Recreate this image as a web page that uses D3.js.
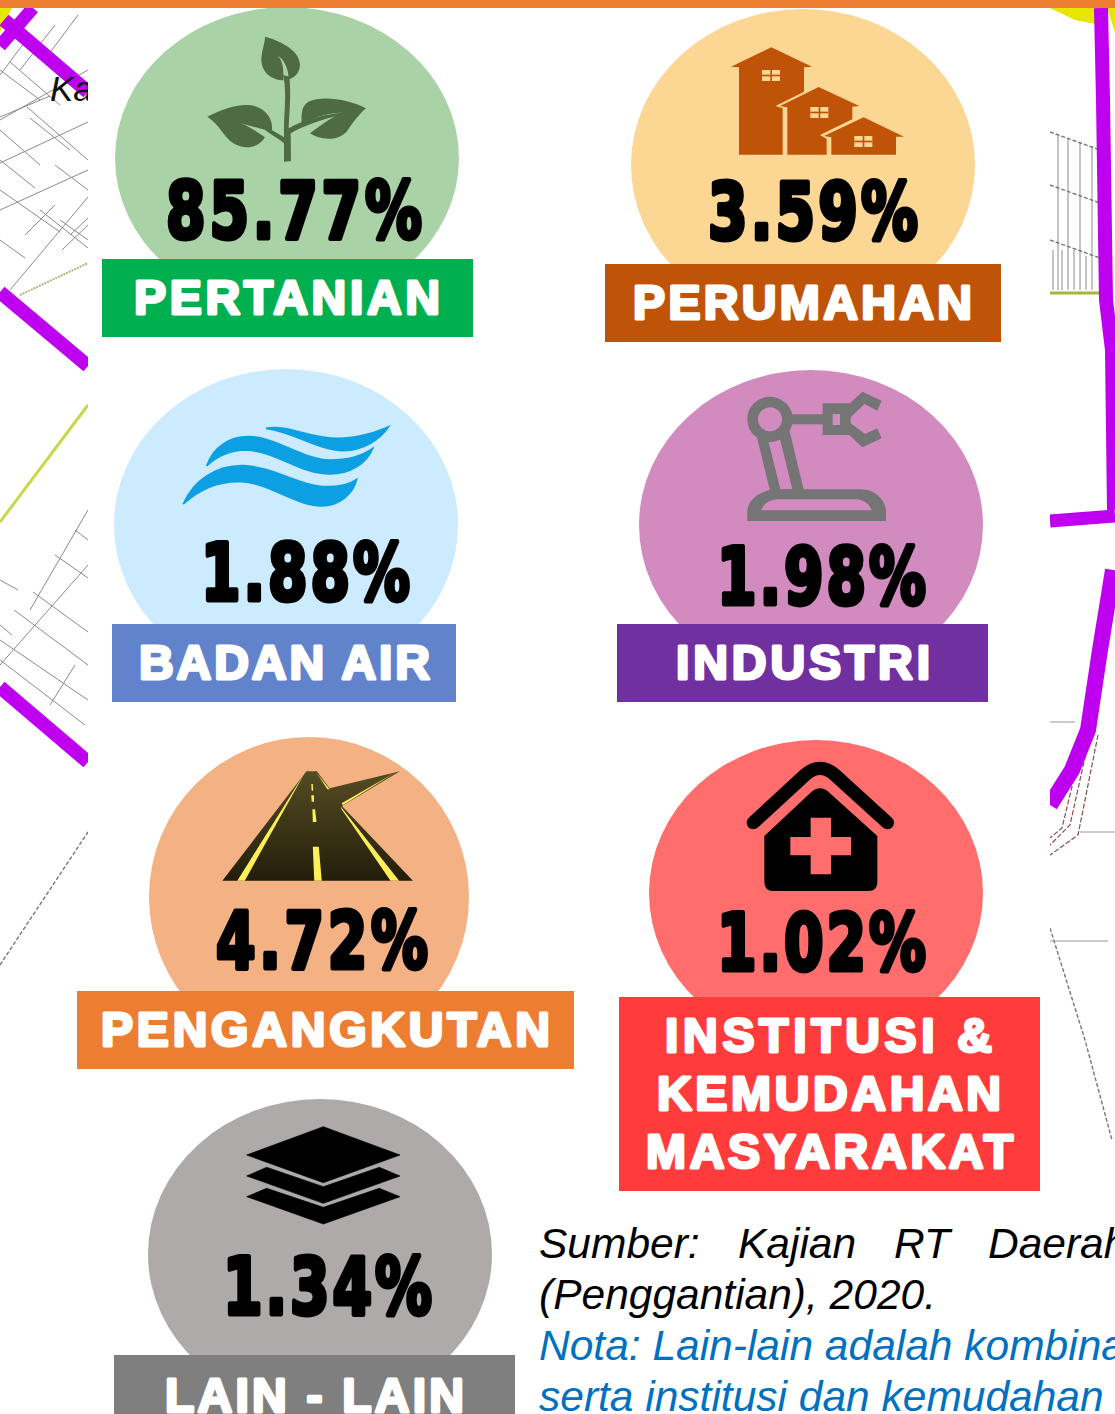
<!DOCTYPE html>
<html>
<head>
<meta charset="utf-8">
<script src="https://cdn.jsdelivr.net/npm/d3@7/dist/d3.min.js"></script>
<style>
html,body{margin:0;padding:0;background:#fff;overflow:hidden}
svg{display:block}
</style>
</head>
<body>
<div id="chart"></div>
<script>
// ---- data ----
const categories = ["PERTANIAN","PERUMAHAN","BADAN AIR","INDUSTRI","PENGANGKUTAN","INSTITUSI & KEMUDAHAN MASYARAKAT","LAIN - LAIN"];
const values = [85.77, 3.59, 1.88, 1.98, 4.72, 1.02, 1.34];
const labelLines = [["PERTANIAN"],["PERUMAHAN"],["BADAN AIR"],["INDUSTRI"],["PENGANGKUTAN"],["INSTITUSI &","KEMUDAHAN","MASYARAKAT"],["LAIN - LAIN"]];
const sourceLines = ["(Penggantian), 2020."];
const sourceWords = ["Sumber:","Kajian","RT","Daerah"];
const noteLines = ["Nota: Lain-lain adalah kombinasi","serta institusi dan kemudahan"];

// ---- colours ----
const discColours = ["#A9D2A7","#FCD693","#CCEBFF","#D28BBF","#F4B183","#FF6D6D","#AEAAAA"];
const bandColours = ["#00B050","#BF5408","#6083CB","#7030A0","#ED7D31","#FF3B3B","#7F7F7F"];
const discColour = d3.scaleOrdinal(categories, discColours);
const bandColour = d3.scaleOrdinal(categories, bandColours);

// ---- layout (page pixels) ----
const W = 1115, H = 1414;
const discLayout = [[287,158,172,151],[803,165,172,156],[286,525,172,156],[811,525,172,155],[309,897,160,160],[816,893,167,153],[320,1254,172,155]];
const bandLayout = [[102,259,371,78],[605,264,396,78],[112,624,344,78],[617,624,371,78],[77,991,497,78],[619,997,421,194],[114,1355,401,59]];
const valueLayout = [[166,238,256],[708,239,210],[201,600,209],[717,604,209],[216,968,212],[717,970,209],[223,1314,209]];
const labelLayout = [[[134,314,306]],[[633,319,339]],[[139,679,291]],[[676,679,254]],[[101,1046,449]],[[665,1052,327],[657,1110,344],[646,1168,367]],[[165,1412,299]]];
const valueSquash = 0.72;

const svg = d3.select("#chart").append("svg").attr("width",W).attr("height",H).attr("viewBox",`0 0 ${W} ${H}`);
const defs = svg.append("defs");
const roadGrad = defs.append("linearGradient").attr("id","roadGrad").attr("x1",0).attr("y1",0).attr("x2",0).attr("y2",1);
roadGrad.append("stop").attr("offset",0).attr("stop-color","#544C22");
roadGrad.append("stop").attr("offset",1).attr("stop-color","#231E0B");

// ---- background map fragments ----
const line = d3.line();
const map = svg.append("g");
const purpleRoads = [
  [[[33,8],[0,46]],13],
  [[[4,20],[88,92]],14],
  [[[0,292],[88,366]],14],
  [[[0,687],[88,762]],14],
  [[[1101,8],[1103,100],[1106,300],[1112,350],[1114,510]],14],
  [[[1050,521],[1115,516]],13],
  [[[1113,570],[1100,650],[1088,730],[1072,770],[1050,805]],16]
];
const thinLines = [
  [[0,117],[50,96]],[[0,163],[88,122]],[[0,210],[88,170]],[[10,290],[88,197]],[[0,120],[88,70]],
  [[27,107],[88,160]],[[0,190],[60,232]],[[60,220],[88,240]],[[30,35],[0,75]],[[55,25],[20,70]],[[78,15],[46,58]],
  [[0,70],[40,100]],[[10,62],[60,105]],[[0,130],[40,165]],[[30,118],[70,150]],[[0,240],[25,258]],[[25,235],[55,205]],
  [[40,210],[88,248]],[[62,250],[88,225]],[[70,235],[88,218]],[[0,160],[35,188]],[[55,165],[88,190]],
  [[88,510],[30,610]],[[88,565],[0,665]],[[75,530],[88,540]],[[55,555],[88,578]],[[33,592],[88,632]],[[14,610],[88,665]],[[0,640],[88,700]],[[0,660],[85,725]],[[75,665],[50,705]],[[0,580],[18,590]],
  [[0,625],[12,635]],
  [[1058,135],[1058,290]],[[1068,138],[1068,290]],[[1080,142],[1080,290]],[[1092,146],[1092,290]],
  [[1053,250],[1053,290]],[[1062,250],[1062,290]],[[1074,250],[1074,290]],[[1086,256],[1086,290]]
];
const dashedLines = [
  [[1050,132],[1100,150]],[[1050,185],[1100,203]],[[1050,240],[1100,258]],
  [[0,965],[88,832]],[[1050,928],[1085,1040],[1112,1140]]
];
const redDashed = [[[1098,735],[1078,835],[1050,855]],[[1090,735],[1070,825],[1050,845]],[[1082,745],[1062,828],[1050,838]]];
map.selectAll("path.thin").data(thinLines).join("path").attr("class","thin").attr("d",line).attr("fill","none").attr("stroke","#8a8a8a").attr("stroke-width",1);
map.selectAll("path.dash").data(dashedLines).join("path").attr("class","dash").attr("d",line).attr("fill","none").attr("stroke","#777").attr("stroke-width",1.4).attr("stroke-dasharray","4 2");
map.selectAll("path.red").data(redDashed).join("path").attr("class","red").attr("d",line).attr("fill","none").attr("stroke","#8b4a55").attr("stroke-width",1.2).attr("stroke-dasharray","5 2");
map.append("path").attr("d",line([[20,295],[88,263]])).attr("fill","none").attr("stroke","#b5b27a").attr("stroke-width",2).attr("stroke-dasharray","2 1");
map.append("path").attr("d",line([[0,522],[88,405]])).attr("fill","none").attr("stroke","#CBD64A").attr("stroke-width",3);
map.append("path").attr("d",line([[1050,293],[1106,293]])).attr("fill","none").attr("stroke","#A8B43C").attr("stroke-width",3);
map.append("path").attr("d",line([[1050,722],[1075,722]])).attr("fill","none").attr("stroke","#999").attr("stroke-width",1);
map.append("path").attr("d",line([[1080,832],[1115,832]])).attr("fill","none").attr("stroke","#999").attr("stroke-width",1);
map.append("path").attr("d",line([[1050,941],[1108,941]])).attr("fill","none").attr("stroke","#999").attr("stroke-width",1);
map.append("path").attr("d","M1050 8L1100 8L1100 25L1075 20Z").attr("fill","#E6E600");
map.append("path").attr("d","M1107 8L1115 8L1115 32Z").attr("fill","#E6E600");
map.append("path").attr("d","M0 8L12 8L0 32Z").attr("fill","#E6E600");
map.selectAll("path.road").data(purpleRoads).join("path").attr("class","road").attr("d",d=>line(d[0])).attr("fill","none").attr("stroke","#BF00F0").attr("stroke-width",d=>d[1]);
map.append("text").attr("x",50).attr("y",101).attr("font-family","Liberation Sans").attr("font-style","italic").attr("font-size",35).attr("fill","#111").text("Ka");

// white panel + top bar
svg.append("rect").attr("x",88).attr("y",8).attr("width",962).attr("height",H-8).attr("fill","#fff");

// ---- discs, bands, values, labels ----
const rows = categories.map((c,i)=>({c,v:values[i],lines:labelLines[i],disc:discLayout[i],band:bandLayout[i],val:valueLayout[i],lab:labelLayout[i]}));
const fmt = d3.format(".2f");

svg.append("g").selectAll("ellipse").data(rows).join("ellipse")
  .attr("cx",d=>d.disc[0]).attr("cy",d=>d.disc[1]).attr("rx",d=>d.disc[2]).attr("ry",d=>d.disc[3])
  .attr("fill",d=>discColour(d.c));
svg.append("rect").attr("width",W).attr("height",8).attr("fill","#ED7D31");

svg.append("g").selectAll("rect").data(rows).join("rect")
  .attr("x",d=>d.band[0]).attr("y",d=>d.band[1]).attr("width",d=>d.band[2]).attr("height",d=>d.band[3])
  .attr("fill",d=>bandColour(d.c));

svg.append("g").selectAll("text").data(rows).join("text")
  .attr("transform",d=>`translate(${d.val[0]},${d.val[1]}) scale(${valueSquash},1)`)
  .attr("textLength",d=>d.val[2]/valueSquash).attr("lengthAdjust","spacing")
  .attr("font-family","DejaVu Sans").attr("font-weight",700).attr("font-size",79)
  .attr("fill","#000").attr("stroke","#000").attr("stroke-width",5).attr("stroke-linejoin","round")
  .text(d=>fmt(d.v)+"%");

svg.append("g").selectAll("g").data(rows).join("g").each(function(d){
  d3.select(this).selectAll("text").data(d.lines.map((t,i)=>({t,p:d.lab[i]}))).join("text")
    .attr("x",e=>e.p[0]).attr("y",e=>e.p[1])
    .attr("textLength",e=>e.p[2]).attr("lengthAdjust","spacing")
    .attr("font-family","Liberation Sans").attr("font-weight",700).attr("font-size",48)
    .attr("fill","#fff").attr("stroke","#fff").attr("stroke-width",3).attr("stroke-linejoin","round")
    .text(e=>e.t);
});

// ---- icons, traced shapes in zoom-crop coordinates ----
function icon(x,y,kx,ky){ return svg.append("g").attr("transform",`translate(${x},${y}) scale(${kx},${ky===undefined?kx:ky})`); }

// plant
const plant = icon(0,0,1/3);
plant.append("path").attr("fill","#4F6B43").attr("d","M795 110C850 125 900 155 900 195C898 230 870 240 846 241C810 238 785 215 784 180C785 150 795 130 795 110Z");
plant.append("path").attr("fill","#A9D2A7").attr("d","M833 168C850 180 852 220 850 242L866 238C866 205 850 175 833 168Z");
plant.append("path").attr("fill","#4F6B43").attr("d","M850 225L868 230C874 290 868 330 866 385C890 370 950 345 1025 338L1020 345C960 360 905 380 872 400L873 483L852 485L852 430C835 415 815 405 795 390L805 385C825 395 840 405 852 412C850 340 862 290 850 225Z");
plant.append("path").attr("fill","#4F6B43").attr("d","M622 350C670 325 730 305 770 320C810 335 820 370 815 395L705 365C740 372 770 395 795 412C775 445 735 450 700 430C670 410 660 375 622 350Z");
plant.append("path").attr("fill","#4F6B43").attr("d","M1098 325C1050 300 970 285 925 305C900 320 905 355 905 375C950 345 990 340 1025 338C990 355 955 380 930 400C960 420 1010 425 1040 395C1060 365 1080 340 1098 325Z");

// houses
const houses = icon(600,0,1/3);
houses.append("path").attr("fill","#BF5408").attr("d","M393 200L514 142L636 200L612 202L612 275L527 318L548 325L548 464L417 464L417 202Z");
houses.append("path").attr("fill","#BF5408").attr("d","M540 318L656 261L778 318L757 320L757 358L660 405L680 416L680 464L562 464L562 322Z");
houses.append("path").attr("fill","#BF5408").attr("d","M672 408L791 352L912 410L888 410L888 464L694 464L694 412Z");
[[486,210],[631,321],[763,408]].forEach(p=>{
  houses.append("rect").attr("x",p[0]).attr("y",p[1]).attr("width",54).attr("height",33).attr("fill","#FCD693");
  houses.append("rect").attr("x",p[0]).attr("y",p[1]+14).attr("width",54).attr("height",5).attr("fill","#BF5408");
  houses.append("rect").attr("x",p[0]+25).attr("y",p[1]).attr("width",5).attr("height",33).attr("fill","#BF5408");
});

// water
const water = icon(0,350,1/3);
["M798 235C860 222 930 265 1010 265C1080 265 1130 245 1166 230C1140 270 1090 300 1030 302C950 300 880 245 798 235Z",
 "M620 348C640 290 690 258 750 260C830 262 910 330 990 330C1050 330 1090 315 1118 295C1100 340 1050 372 990 372C900 372 830 305 740 300C690 300 650 320 620 348Z",
 "M550 462C580 390 650 345 730 347C820 350 900 410 980 410C1020 410 1050 402 1070 388C1060 430 1020 468 965 468C880 465 810 400 725 395C650 392 590 425 550 462Z"]
 .forEach(d=>water.append("path").attr("d",d).attr("fill","#0CA0E3").attr("stroke","#0CA0E3").attr("stroke-width",5));

// robot arm
const robot = icon(600,370,1/3);
robot.append("circle").attr("cx",510).attr("cy",148).attr("r",52).attr("fill","none").attr("stroke","#757575").attr("stroke-width",32);
robot.append("path").attr("fill","#757575").attr("fill-rule","evenodd").attr("d","M468 190L510 362L612 362L568 180L530 200ZM505 212L540 207L577 358L541 358Z");
robot.append("rect").attr("x",570).attr("y",133).attr("width",100).attr("height",30).attr("fill","#757575");
robot.append("path").attr("fill","#757575").attr("fill-rule","evenodd").attr("d","M668 100L750 100L787 65L845 92L832 122L793 102L752 142L752 160L795 192L832 175L845 205L787 232L748 195L668 195ZM698 132L698 165L720 165L720 132Z");
robot.append("path").attr("fill","#757575").attr("fill-rule","evenodd").attr("d","M442 453L442 425C442 385 490 358 530 358L780 358C830 358 858 395 858 425L858 453ZM484 421L815 421C810 405 795 390 770 388L530 388C510 390 490 400 484 421Z");

// road
const road = icon(0,740,580/1552,1/3);
road.append("path").attr("fill","url(#roadGrad)").attr("d","M820 94L848 94L882 145L1070 94L915 198L1105 422L595 422Z");
road.append("path").attr("fill","#FFEE58").attr("d","M815 100L655 422L635 422Z");
road.append("path").attr("fill","#FFEE58").attr("d","M912 200L1068 422L1045 422L914 208Z");
road.append("path").attr("fill","#FFEE58").attr("d","M848 100L882 148L876 148Z");
road.append("path").attr("fill","#FFEE58").attr("d","M1060 96L918 195L914 190Z");
road.append("path").attr("fill","#FFEE58").attr("d","M837 320L853 320L861 422L841 422Z");
road.append("path").attr("fill","#FFEE58").attr("d","M836 208L843 208L847 246L837 246Z");
road.append("path").attr("fill","#FFEE58").attr("d","M833 166L840 166L840 185L834 185Z");
road.append("path").attr("fill","#FFEE58").attr("d","M833 132L837 132L838 152L834 152Z");

// clinic
const clinic = icon(600,730,1/3);
clinic.append("path").attr("fill","none").attr("stroke","#000").attr("stroke-width",40).attr("stroke-linecap","round").attr("d","M460 278L615 135Q660 95 705 135L862 278");
clinic.append("path").attr("fill","#000").attr("d","M493 318L630 190Q660 160 690 190L832 318L832 455Q832 483 805 483L520 483Q493 483 493 455Z");
clinic.append("path").attr("fill","#FF6D6D").attr("d","M632 263L693 263L693 321L753 321L753 376L693 376L693 433L632 433L632 376L571 376L571 321L632 321Z");

// layers
const layers = icon(100,1090,1/3);
["M670 110L900 195L670 278L440 195Z","M500 232L670 290L838 232L900 258L670 340L440 258Z","M500 295L670 352L838 295L900 320L670 402L440 320Z"]
 .forEach(d=>layers.append("path").attr("d",d).attr("fill","#000").attr("stroke","#000").attr("stroke-width",2).attr("stroke-linejoin","round"));

// ---- source & note text ----
const cap = svg.append("g").attr("font-family","Liberation Sans").attr("font-style","italic").attr("font-size",42.5);
const wordX = d3.scaleOrdinal(sourceWords,[539,738,894,988]);
cap.selectAll("text.word").data(sourceWords).join("text").attr("class","word").attr("x",d=>wordX(d)).attr("y",1258).attr("fill","#000").text(d=>d);
cap.selectAll("text.src").data(sourceLines).join("text").attr("class","src").attr("x",539).attr("y",1309).attr("fill","#000").text(d=>d);
cap.selectAll("text.note").data(noteLines).join("text").attr("class","note").attr("x",539).attr("y",(d,i)=>1360+i*51).attr("fill","#0070C0").text(d=>d);
</script>
</body>
</html>
